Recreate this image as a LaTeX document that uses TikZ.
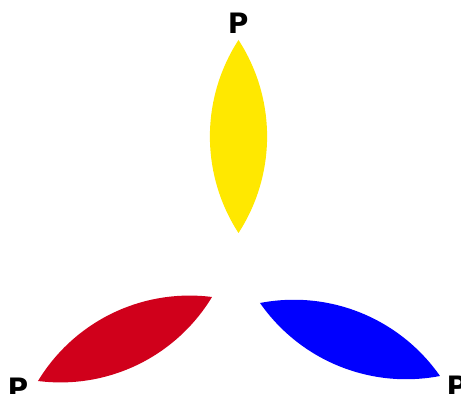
\documentclass[tikz,border=0pt]{standalone}
\usepackage{fontspec}
\setmainfont{DejaVu Sans}
\definecolor{leafyellow}{RGB}{255,232,0}
\definecolor{leafred}{RGB}{208,0,27}
\definecolor{leafblue}{RGB}{0,0,255}

\begin{document}
\begin{tikzpicture}[x=0.02cm, y=-0.02cm,
    font=\bfseries\fontsize{16}{16}\selectfont,
    leafedge/.style={bend left=33, looseness=0.93}]

  \useasboundingbox (0,0) rectangle (461,394);

  % Leaf tips
  \coordinate (yellowTop) at (238.5,40);
  \coordinate (yellowBot) at (238.5,233);
  \coordinate (redOut) at (38,381);
  \coordinate (redIn) at (212,297);
  \coordinate (blueIn) at (260,303);
  \coordinate (blueOut) at (440,376);

  % Yellow leaf
  \fill[leafyellow] (yellowTop) to[leafedge] (yellowBot) to[leafedge] (yellowTop) -- cycle;

  % Red leaf
  \fill[leafred] (redOut) to[leafedge] (redIn) to[leafedge] (redOut) -- cycle;

  % Blue leaf
  \fill[leafblue] (blueIn) to[leafedge] (blueOut) to[leafedge] (blueIn) -- cycle;

  % Labels
  \node (pTop) at (238.3,23.3) {P};
  \node (pLeft) at (18,388) {P};
  \node (pRight) at (457,386) {P};

\end{tikzpicture}
\end{document}
